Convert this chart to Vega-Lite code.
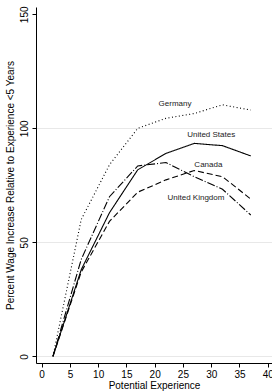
{
  "$schema": "https://vega.github.io/schema/vega-lite/v6.json",
  "width": 236,
  "height": 356,
  "autosize": {"type": "none"},
  "padding": {"left": 36, "top": 7, "right": 0, "bottom": 28},
  "background": "white",
  "config": {
    "view": {"stroke": null},
    "font": "Liberation Sans",
    "axis": {"domainColor": "#000", "tickColor": "#000", "labelColor": "#000", "titleColor": "#000", "labelFontSize": 10, "titleFontSize": 10, "titleFontWeight": "normal", "tickSize": 4, "domainWidth": 1, "tickWidth": 1}
  },
  "data": {"values": [
      {"country": "Germany", "exp": 2, "pct": 0},
      {"country": "Germany", "exp": 7, "pct": 60},
      {"country": "Germany", "exp": 12, "pct": 84},
      {"country": "Germany", "exp": 17, "pct": 100},
      {"country": "Germany", "exp": 22, "pct": 104.4},
      {"country": "Germany", "exp": 27, "pct": 106.5},
      {"country": "Germany", "exp": 32, "pct": 110.3},
      {"country": "Germany", "exp": 37, "pct": 108},
      {"country": "United States", "exp": 2, "pct": 0},
      {"country": "United States", "exp": 7, "pct": 38},
      {"country": "United States", "exp": 12, "pct": 63},
      {"country": "United States", "exp": 17, "pct": 81.8},
      {"country": "United States", "exp": 22, "pct": 89},
      {"country": "United States", "exp": 27, "pct": 93.4},
      {"country": "United States", "exp": 32, "pct": 92.4},
      {"country": "United States", "exp": 37, "pct": 87.9},
      {"country": "Canada", "exp": 2, "pct": 0},
      {"country": "Canada", "exp": 7, "pct": 37},
      {"country": "Canada", "exp": 12, "pct": 59.2},
      {"country": "Canada", "exp": 17, "pct": 72},
      {"country": "Canada", "exp": 22, "pct": 77.4},
      {"country": "Canada", "exp": 27, "pct": 81.5},
      {"country": "Canada", "exp": 32, "pct": 78.8},
      {"country": "Canada", "exp": 37, "pct": 69},
      {"country": "United Kingdom", "exp": 2, "pct": 0},
      {"country": "United Kingdom", "exp": 7, "pct": 42.5},
      {"country": "United Kingdom", "exp": 12, "pct": 70},
      {"country": "United Kingdom", "exp": 17, "pct": 83.5},
      {"country": "United Kingdom", "exp": 22, "pct": 85},
      {"country": "United Kingdom", "exp": 27, "pct": 78.8},
      {"country": "United Kingdom", "exp": 32, "pct": 73.3},
      {"country": "United Kingdom", "exp": 37, "pct": 62}
  ]},
  "datasets": {
    "labels": [
      {"label": "Germany", "exp": 23.6, "pct": 110.6},
      {"label": "United States", "exp": 30, "pct": 97},
      {"label": "Canada", "exp": 29.5, "pct": 84},
      {"label": "United Kingdom", "exp": 27.3, "pct": 69.4}
    ]
  },
  "encoding": {
    "x": {"field": "exp", "type": "quantitative", "title": "Potential Experience",
          "scale": {"domain": [-1.0, 40.76], "nice": false, "zero": false},
          "axis": {"values": [0, 5, 10, 15, 20, 25, 30, 35, 40], "grid": false, "labelOverlap": false, "labelBound": false, "labelPadding": 2, "titlePadding": 1, "labelFlush": false}},
    "y": {"field": "pct", "type": "quantitative", "title": "Percent Wage Increase Relative to Experience <5 Years",
          "scale": {"domain": [-2.9, 153.2], "nice": false, "zero": false},
          "axis": {"values": [0, 50, 100, 150], "grid": true, "gridColor": "#e8e8e8",
                   "gridOpacity": {"condition": {"test": "datum.value === 150", "value": 0}, "value": 1},
                   "labelOverlap": false, "labelAngle": 270, "labelAlign": "center", "labelBaseline": "bottom", "labelPadding": 3, "titlePadding": 4, "labelFlush": false}}
  },
  "layer": [
    {
      "mark": {"type": "line", "color": "#000", "strokeWidth": 1.1},
      "encoding": {
        "detail": {"field": "country"},
        "strokeDash": {"field": "country", "type": "nominal", "legend": null,
                       "scale": {"domain": ["Germany", "United States", "Canada", "United Kingdom"],
                                 "range": [[1, 2.5], [1, 0], [6, 3], [8, 2, 1, 2]]}}
      }
    },
    {
      "data": {"name": "labels"},
      "mark": {"type": "text", "fontSize": 8, "color": "#222", "align": "center", "baseline": "middle"},
      "encoding": {
        "text": {"field": "label"}
      }
    }
  ]
}
